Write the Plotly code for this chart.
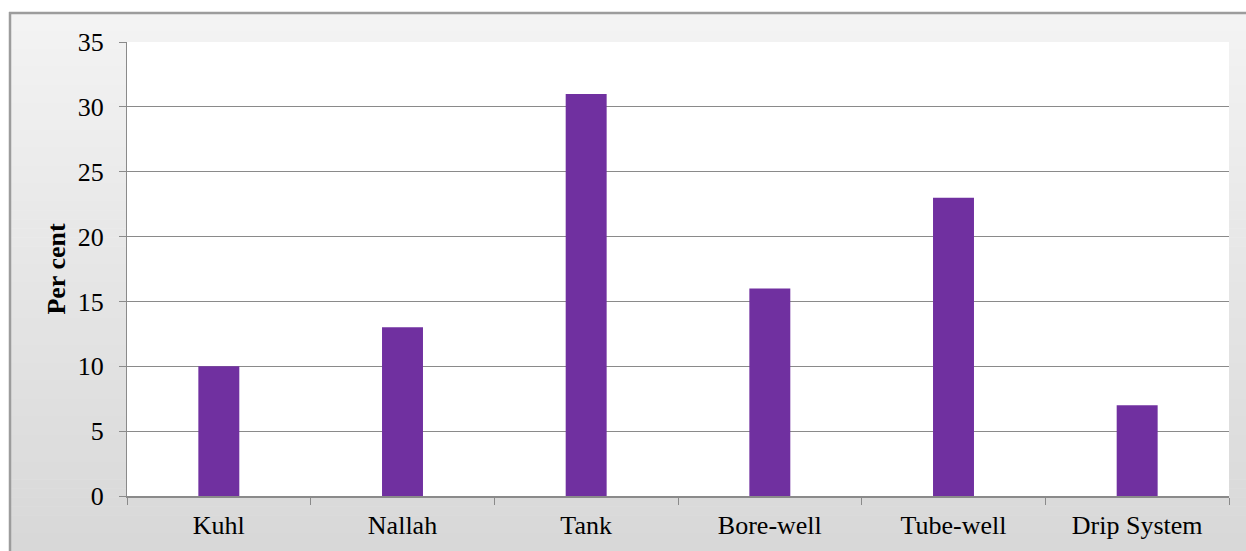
import plotly.graph_objects as go

# Irrigation sources and their share of respondents
categories = ["Kuhl", "Nallah", "Tank", "Bore-well", "Tube-well", "Drip System"]
percent = [10, 13, 31, 16, 23, 7]
y_ticks = [0, 5, 10, 15, 20, 25, 30, 35]

W, H = 1246, 551
L, R, T, B = 127, 17, 42, 55
plot_w = W - L - R
plot_h = H - T - B


def px_x(px):
    return (px - L) / plot_w


def px_y(py):
    return (H - B - py) / plot_h


FONT = "Liberation Serif, Times New Roman, serif"

fig = go.Figure(
    go.Bar(
        x=categories,
        y=percent,
        marker=dict(color="#7030A0", line=dict(width=0)),
        hoverinfo="x+y",
    )
)

# Vertical gray gradient behind the chart area
shapes = []
frame_left, frame_top = 10, 13
n_strips = 60
top_rgb, bot_rgb = 0xF3, 0xD8
strip_h = (H - frame_top) / n_strips
for i in range(n_strips):
    t = i / (n_strips - 1)
    v = round(top_rgb + (bot_rgb - top_rgb) * t)
    y0 = frame_top + i * strip_h
    y1 = y0 + strip_h + 0.6
    shapes.append(dict(
        type="rect", xref="paper", yref="paper", layer="below",
        x0=px_x(frame_left), x1=px_x(W + 2), y0=px_y(y1), y1=px_y(y0),
        fillcolor=f"rgb({v},{v},{v})", line=dict(width=0),
    ))
# White plotting area
shapes.append(dict(
    type="rect", xref="paper", yref="paper", layer="below",
    x0=0, x1=1, y0=0, y1=1, fillcolor="white", line=dict(width=0),
))
# Outer frame (left and top edges)
shapes.append(dict(
    type="line", xref="paper", yref="paper", layer="below",
    x0=px_x(frame_left), x1=px_x(frame_left), y0=px_y(H + 2), y1=px_y(frame_top - 1),
    line=dict(color="#9c9c9c", width=2.5),
))
shapes.append(dict(
    type="line", xref="paper", yref="paper", layer="below",
    x0=px_x(frame_left - 1), x1=px_x(W + 2), y0=px_y(frame_top), y1=px_y(frame_top),
    line=dict(color="#9c9c9c", width=2.5),
))

fig.update_layout(
    width=W,
    height=H,
    margin=dict(l=L, r=R, t=T, b=B, pad=0, autoexpand=False),
    paper_bgcolor="white",
    plot_bgcolor="white",
    bargap=0.777,
    showlegend=False,
    font=dict(family=FONT, size=26, color="#000000"),
    shapes=shapes,
)

fig.update_xaxes(
    automargin=False,
    showline=True,
    linecolor="#8a8a8a",
    linewidth=2,
    ticks="outside",
    tickson="boundaries",
    ticklen=7,
    tickcolor="#8a8a8a",
    tickwidth=1,
    showgrid=False,
    tickfont=dict(family=FONT, size=26, color="#000000"),
    ticklabelstandoff=5,
)

fig.update_yaxes(
    automargin=False,
    range=[0, 35],
    tickvals=y_ticks,
    ticktext=[str(v) for v in y_ticks],
    showline=True,
    linecolor="#8a8a8a",
    linewidth=1,
    ticks="outside",
    ticklen=7,
    tickcolor="#8a8a8a",
    tickwidth=1,
    showgrid=True,
    gridcolor="#8a8a8a",
    gridwidth=1,
    zeroline=False,
    tickfont=dict(family=FONT, size=26, color="#000000"),
    ticklabelstandoff=10,
    title=dict(
        text="<b>Per cent</b>",
        font=dict(family=FONT, size=26, color="#000000"),
        standoff=4,
    ),
)

fig.write_html("out.html")
